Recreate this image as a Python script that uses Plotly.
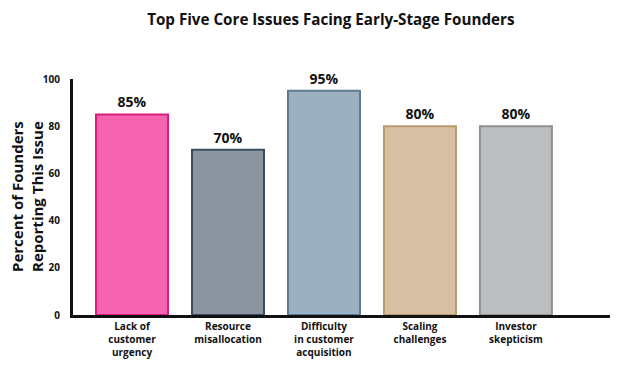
import plotly.graph_objects as go

categories = ["Lack of<br>customer<br>urgency", "Resource<br>misallocation",
              "Difficulty<br>in customer<br>acquisition", "Scaling<br>challenges",
              "Investor<br>skepticism"]
values = [85, 70, 95, 80, 80]
value_labels = ["85%", "70%", "95%", "80%", "80%"]
fill_colors = ["#F663AF", "#8A959F", "#9BB1C2", "#D6BFA2", "#BCBDBF"]
line_colors = ["#D81E7A", "#3E4D5C", "#5C7A90", "#B9996F", "#8F9194"]
y_ticks = [0, 20, 40, 60, 80, 100]

FONT = "Open Sans"

fig = go.Figure()
fig.add_trace(go.Bar(
    x=list(range(len(categories))), y=values,
    width=0.75,
    marker=dict(color=fill_colors, line=dict(color=line_colors, width=2)),
    text=value_labels, textposition="outside", cliponaxis=False,
    textfont=dict(family=FONT, size=14, color="#111111", weight="bold"),
    hoverinfo="skip",
))

fig.update_layout(
    width=616, height=359,
    margin=dict(l=65, r=14, t=71, b=52, autoexpand=False),
    paper_bgcolor="white", plot_bgcolor="white",
    showlegend=False,
    title=dict(text="<b>Top Five Core Issues Facing Early-Stage Founders</b>",
               x=0.524, xanchor="center", y=0.967, yanchor="middle",
               font=dict(family=FONT, size=15.2, color="#111111")),
    xaxis=dict(
        range=[-0.615, 4.98], automargin=False,
        tickmode="array", tickvals=list(range(len(categories))), ticktext=categories,
        tickfont=dict(family=FONT, size=10, color="#111111", weight="bold"),
        showgrid=False, zeroline=False,
        showline=True, linecolor="#111111", linewidth=3,
        ticks="", ticklen=0, tickangle=0,
    ),
    yaxis=dict(
        range=[0, 100], automargin=False,
        tickmode="array", tickvals=y_ticks, ticktext=[str(v) for v in y_ticks],
        tickfont=dict(family=FONT, size=10, color="#111111", weight="bold"),
        showgrid=False, zeroline=False,
        showline=True, linecolor="#111111", linewidth=3,
        ticks="", ticklabelstandoff=8,
    ),
    annotations=[dict(
        text="<b>Percent of Founders<br>Reporting This Issue</b>",
        xref="paper", yref="paper", x=0, y=0.5, xshift=-46,
        xanchor="center", yanchor="middle", textangle=-90, showarrow=False,
        font=dict(family=FONT, size=15, color="#111111"),
    )],
)

fig.write_html("out.html")
